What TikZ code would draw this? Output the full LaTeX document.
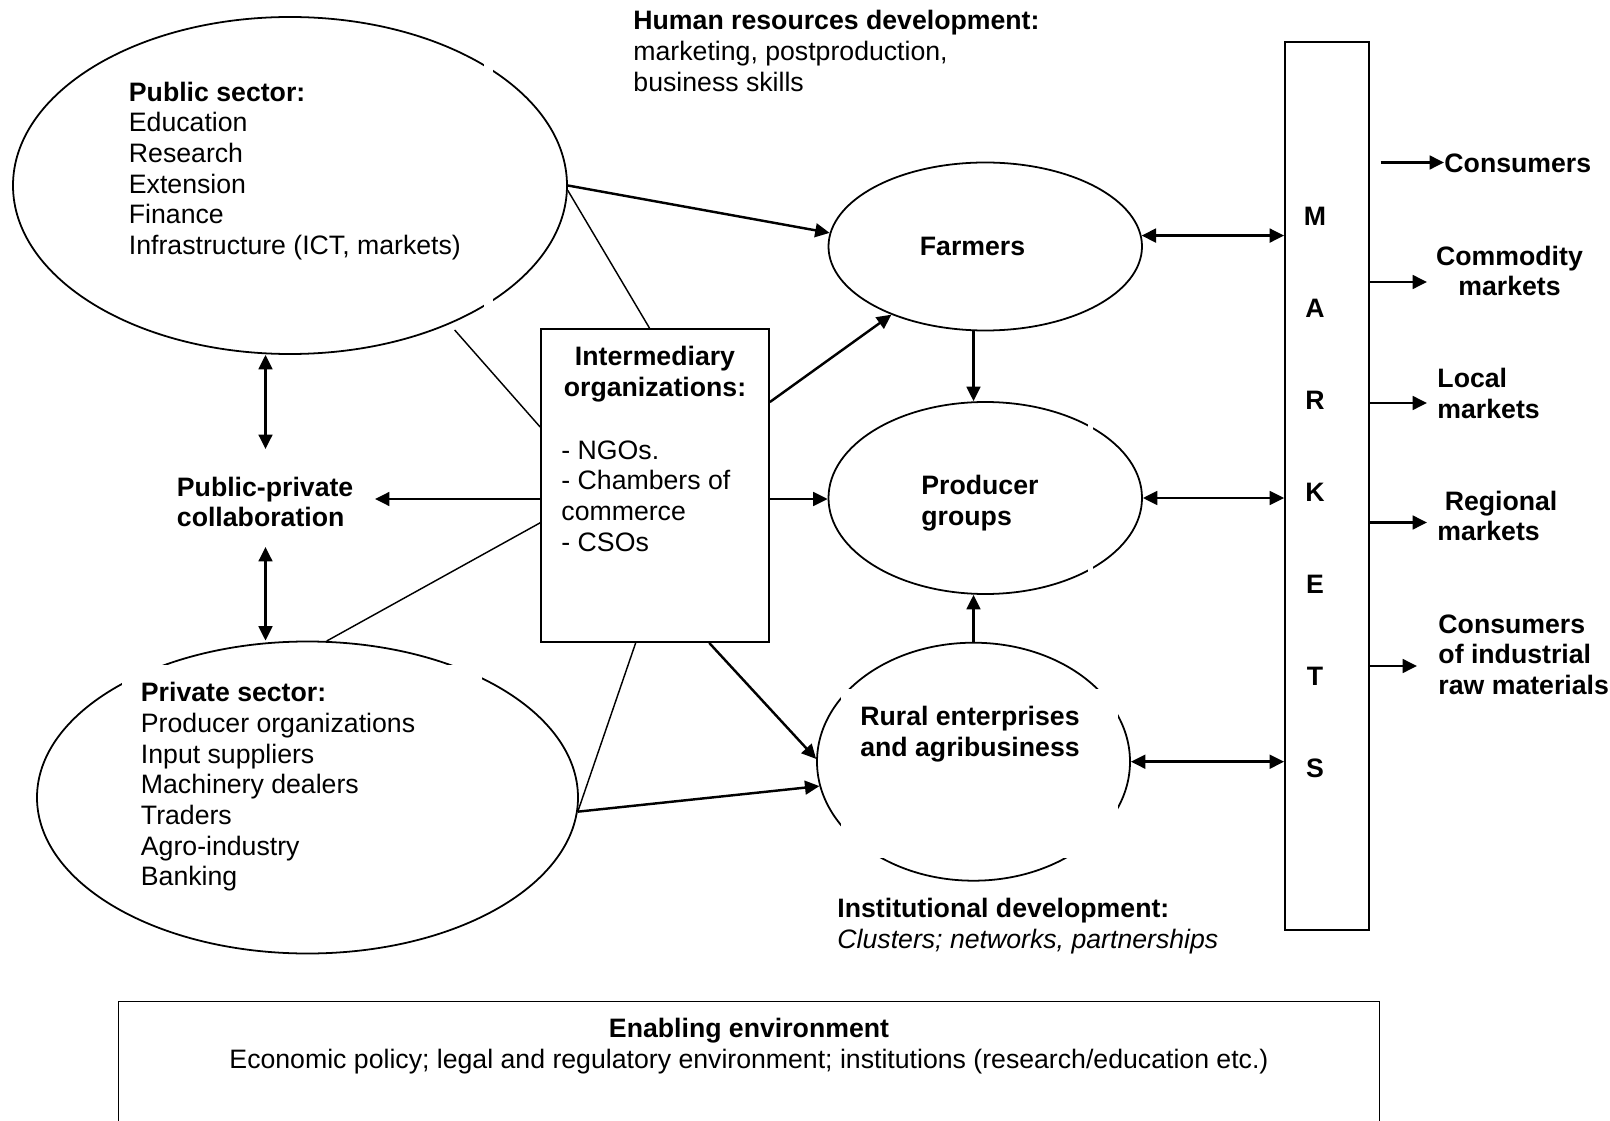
\documentclass[tikz,border=0pt]{standalone}
\usepackage{fontspec}
\setmainfont{Liberation Sans}
\usetikzlibrary{arrows.meta,shapes.geometric}

\begin{document}
\begin{tikzpicture}[>={Triangle[length=6.5pt,width=6.2pt]},x=0.45pt,y=-0.45pt,
  font=\fontsize{12}{13.8}\selectfont,
  oval/.style={draw,ellipse,line width=0.8pt,inner sep=0pt},
  rbox/.style={draw,rectangle,line width=0.8pt,inner sep=0pt},
  txt/.style={align=left,inner sep=0pt},
  btxt/.style={txt,font=\fontsize{12}{13.8}\selectfont\bfseries},
  arr/.style={->,line width=1.1pt},
  dbl/.style={<->,line width=1.1pt},
  link/.style={line width=0.65pt}]
\def\px{0.45pt}
\useasboundingbox (0,0) rectangle (1610,1121);

% ellipses and boxes
\node[oval,minimum width=554*\px,minimum height=337*\px] (pub) at (290,185.5) {};
\node[oval,minimum width=541*\px,minimum height=312*\px] (priv) at (307.5,797.5) {};
\node[oval,minimum width=313.5*\px,minimum height=168*\px] (farm) at (985.25,246.5) {};
\node[oval,minimum width=313.5*\px,minimum height=192*\px] (prod) at (985.25,498) {};
\node[oval,minimum width=313*\px,minimum height=238*\px] (rural) at (973.5,761.7) {};
\node[rbox,minimum width=228*\px,minimum height=313*\px] (imbox) at (655,485.5) {};
\node[rbox,minimum width=84*\px,minimum height=888*\px] (mkt) at (1327,486) {};
\node[inner sep=0pt,minimum width=1260*\px,minimum height=119*\px] (envbox) at (749,1061.5) {};
\draw[line width=0.8pt] (envbox.south west) |- (envbox.north east) -- (envbox.south east);

% breaks in the outlines
\fill[white] (484,62) rectangle (493,76);
\fill[white] (484,295) rectangle (493,310);
\fill[white] (1088,419) rectangle (1093,433);
\fill[white] (1088,562) rectangle (1093,576);
\fill[white] (122,665) rectangle (482,700);
\fill[white] (841,689) rectangle (1118,858);

% texts
\node[txt,anchor=west] (hrd) at (633,51) {\textbf{Human resources development:}\\marketing, postproduction,\\business skills};
\node[txt,anchor=west] (pubtxt) at (128.5,171) {\textbf{Public sector:}\\Education\\Research\\Extension\\Finance\\Infrastructure (ICT, markets)};
\node[btxt,anchor=west] (ppc) at (176.5,502) {Public-private\\collaboration};
\node[txt,anchor=west] (privtxt) at (140.5,787) {\textbf{Private sector:}\\Producer organizations\\Input suppliers\\Machinery dealers\\Traders\\Agro-industry\\Banking};
\node[btxt,align=center] (imtitle) at (655,374) {Intermediary\\organizations:};
\node[txt,anchor=west] (imlist) at (561,496) {- NGOs.\\- Chambers of\\commerce\\- CSOs};
\node[btxt] (farmtxt) at (972.5,246.5) {Farmers};
\node[btxt,anchor=west] (prodtxt) at (921,503) {Producer\\groups};
\node[btxt,align=center] (ruraltxt) at (970,734.2) {Rural enterprises\\and agribusiness};
\node[txt,anchor=west] (insttxt) at (837,926) {\textbf{Institutional development:}\\\textit{Clusters; networks, partnerships}};
\node[txt,align=center] (envtxt) at (749,1046) {\textbf{Enabling environment}\\Economic policy; legal and regulatory environment; institutions (research/education etc.)};

\foreach \l [count=\i from 0] in {M,A,R,K,E,T,S}
  \node[btxt] (mk\l) at (1315,216.5+92*\i) {\l};

\node[btxt,anchor=west] (cons) at (1444,163) {Consumers};
\node[btxt,align=center] (comm) at (1509.5,271) {Commodity\\markets};
\node[btxt,anchor=west] (local) at (1437,393.5) {Local\\markets};
\node[btxt,anchor=west] (reg) at (1437,516) {\hspace*{3.3pt}Regional\\markets};
\node[btxt,anchor=west] (ind) at (1438,654.5) {Consumers\\of industrial\\raw materials};

% connectors
\coordinate (ppcup) at (265.5,449);
\coordinate (ppcdn) at (265.5,547);
\coordinate (ppcin) at (375,499);
\draw[dbl] (ppcup |- pub.south) -- (ppcup);
\draw[dbl] (ppcdn) -- (ppcdn |- priv.north);
\draw[arr] (imbox.west |- ppcin) -- (ppcin);
\draw[arr] (imbox.east |- ppcin) -- (prod.west |- ppcin);

\draw[arr] (pub.east) -- (farm.175);
\draw[link] (pub.-1) -- (imbox.92);
\draw[link,shorten <=3.5pt] (pub.-41) -- (imbox.153);
\draw[link] (priv.83) -- (imbox.198);
\draw[link] (priv.-3) -- (imbox.263);
\draw[arr] (priv.-3) -- (rural.189);
\draw[arr] (imbox.289) -- (rural.179);
\draw[arr] (imbox.36) -- (farm.216);
\draw[arr] (rural.north |- farm.south) -- (rural.north |- prod.north);
\draw[arr] (rural.north) -- (rural.north |- prod.south);

\draw[dbl] (farm.4.5) -- (farm.4.5 -| mkt.west);
\draw[dbl] (prod.east) -- (prod.east -| mkt.west);
\draw[dbl] (rural.east) -- (rural.east -| mkt.west);

\coordinate (constail) at (1380.5,162.5);
\draw[arr] (constail) -- (1440,162.5 -| cons.west);
\foreach \n/\y/\e in {comm/282/1427,local/403/1427,reg/522.5/1427,ind/666/1417}{
  \coordinate (\n tip) at (\e,\y);
  \draw[arr] (mkt.east |- \n tip) -- (\n tip);
}
\end{tikzpicture}
\end{document}
